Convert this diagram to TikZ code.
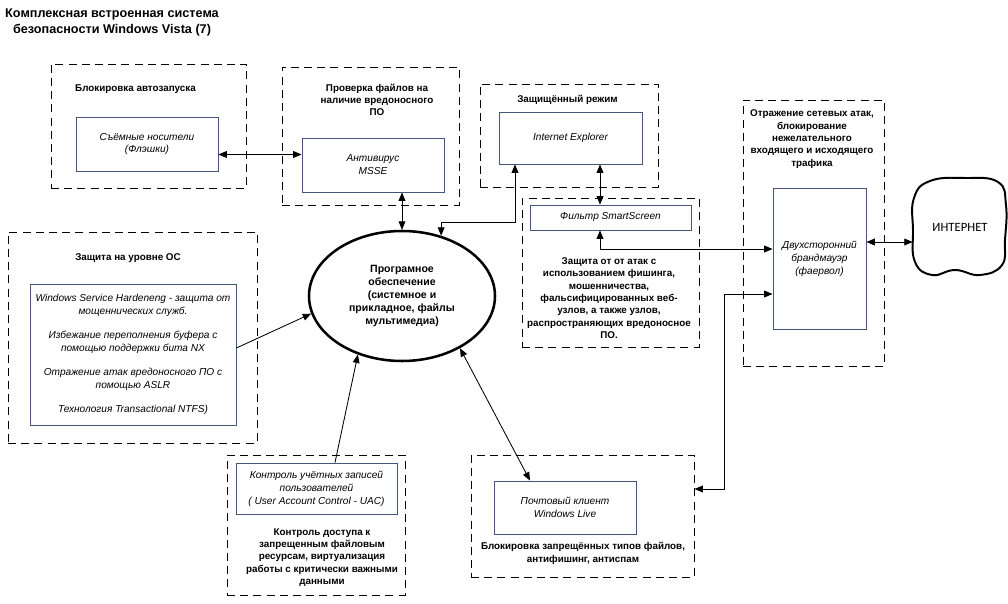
\documentclass[tikz,border=0pt]{standalone}
\usepackage{fontspec}
\setmainfont{Liberation Sans}
\newfontfamily\inetfont{Carlito}
\usetikzlibrary{arrows.meta,positioning,shapes.geometric,calc}
\definecolor{boxline}{HTML}{46557A}

\begin{document}
\begin{tikzpicture}[
  x=0.25mm,y=-0.25mm,
  frame/.style={draw,line width=0.65pt,dash pattern=on 2mm off 1.3mm,inner sep=0pt},
  box/.style={draw=boxline,line width=0.6pt,fill=white,align=center,inner sep=0pt,font=\fontsize{7.2}{9.2}\selectfont\itshape},
  lbl/.style={align=center,inner sep=0pt,font=\fontsize{7}{8.8}\selectfont\bfseries},
  sw/.style={ellipse,draw,line width=1.8pt,align=center,inner sep=0pt,font=\fontsize{7.5}{9.2}\selectfont\bfseries},
  arr/.style={-{Triangle[length=2.1mm,width=1.7mm]},line width=0.6pt},
  arr2/.style={{Triangle[length=2.1mm,width=1.7mm]}-{Triangle[length=2.1mm,width=1.7mm]},line width=0.6pt},
]
\useasboundingbox (0,0) rectangle (1008,604);

\node[lbl,font=\fontsize{9}{11.4}\selectfont\bfseries] (title) at (112,22) {Комплексная встроенная система\\безопасности Windows Vista (7)};

\node[frame,minimum width=48.75mm,minimum height=31mm] (fAuto) at (148.5,126) {};
\node[frame,minimum width=44.25mm,minimum height=34.5mm] (fAv) at (370.5,136) {};
\node[frame,minimum width=44.5mm,minimum height=25.75mm] (fProt) at (569,135.5) {};
\node[frame,minimum width=44.25mm,minimum height=37.25mm] (fSmart) at (610.5,272.5) {};
\node[frame,minimum width=35.25mm,minimum height=66.5mm] (fFire) at (813.5,233) {};
\node[frame,minimum width=62.25mm,minimum height=52.75mm] (fOs) at (132.5,337.5) {};
\node[frame,minimum width=44.5mm,minimum height=35mm] (fUac) at (316,525) {};
\node[frame,minimum width=55.75mm,minimum height=30.5mm] (fMail) at (582.5,516) {};

\node[lbl] (tAuto) at (135.5,89) {Блокировка автозапуска};
\node[lbl] (tAv) at (377,100) {Проверка файлов на\\наличие вредоносного\\ПО};
\node[lbl] (tProt) at (567.5,100) {Защищённый режим};
\node[lbl] (tSmart) at (609,298) {Защита от от атак с\\использованием фишинга,\\мошенничества,\\фальсифицированных веб-\\узлов, а также узлов,\\распространяющих вредоносное\\ПО.};
\node[lbl] (tFire) at (812,139) {Отражение сетевых атак,\\блокирование\\нежелательного\\входящего и исходящего\\трафика};
\node[lbl] (tOs) at (128,258) {Защита на уровне ОС};
\node[lbl] (tUac) at (322,557.5) {Контроль доступа к\\запрещенным файловым\\ресурсам, виртуализация\\работы с критически важными\\данными};
\node[lbl] (tMail) at (583,553.5) {Блокировка запрещённых типов файлов,\\антифишинг, антиспам};

\node[box,minimum width=35.5mm,minimum height=13.5mm] (flash) at (147,144) {Съёмные носители\\(Флэшки)};
\node[box,minimum width=35.5mm,minimum height=13.5mm] (av) at (373,165) {Антивирус\\MSSE};
\node[box,minimum width=35.75mm,minimum height=13mm] (ie) at (570.5,138) {Internet Explorer};
\node[box,minimum width=40.25mm,minimum height=6.25mm] (smart) at (610.5,217.5) {Фильтр SmartScreen};
\node[box,minimum width=23.25mm,minimum height=35.25mm] (fire) at (819.5,258.5) {Двухсторонний\\брандмауэр\\(фаервол)};
\node[box,minimum width=51.5mm,minimum height=35.25mm] (os) at (133,354.5) {Windows Service Hardeneng - защита от\\мощеннических служб.\\[8pt]Избежание переполнения буфера с\\помощью поддержки бита NX\\[8pt]Отражение атак вредоносного ПО с\\помощью ASLR\\[8pt]Технология Transactional NTFS)};
\node[box,minimum width=40.25mm,minimum height=12.75mm] (uac) at (316.5,488.5) {Контроль учётных записей\\пользователей\\( User Account Control - UAC)};
\node[box,minimum width=35.5mm,minimum height=13.25mm] (mail) at (565,507.5) {Почтовый клиент\\Windows Live};

\node[sw,minimum width=46.5mm,minimum height=32.5mm] (sw) at (402,296) {Програмное\\обеспечение\\(системное и\\прикладное, файлы\\мультимедиа)};

\node[inner sep=0pt,minimum width=23.5mm,minimum height=24.25mm,font=\inetfont\fontsize{9}{11}\selectfont] (inet) at (960,227) {ИНТЕРНЕТ};
\draw[line width=1.4pt] plot[smooth cycle,tension=0.75] coordinates {(914,198) (930,181) (965,178) (998,182) (1006,205) (1005,240) (1002,265) (980,275) (955,270) (932,275) (915,262) (913,230)};

\coordinate (m1) at ($(flash.east)!0.5!(av.west)$);
\draw[arr2] (flash.east |- m1) -- (av.west |- m1);
\draw[arr2] (av.south -| sw.north) -- (sw.north);
\draw[arr2] (sw.57) |- (515,222) -- (ie.south -| 515,0);
\draw[arr2] (ie.south -| 600,0) -- (smart.north -| 600,0);
\draw[arr2] (smart.south -| 600,0) |- (fire.west |- 0,249);
\draw[arr2] (fMail.east |- 0,489) -| (724,294) -- (fire.west |- 0,294);
\draw[arr2] (fire.east |- 0,242) -- (inet.west |- 0,242);
\draw[arr] (os.east |- 0,348) -- (sw.191);
\draw[arr] (uac.north -| 335,0) -- (sw.233);
\draw[arr2] (sw.318) -- (mail.north -| 530,0);
\end{tikzpicture}
\end{document}
